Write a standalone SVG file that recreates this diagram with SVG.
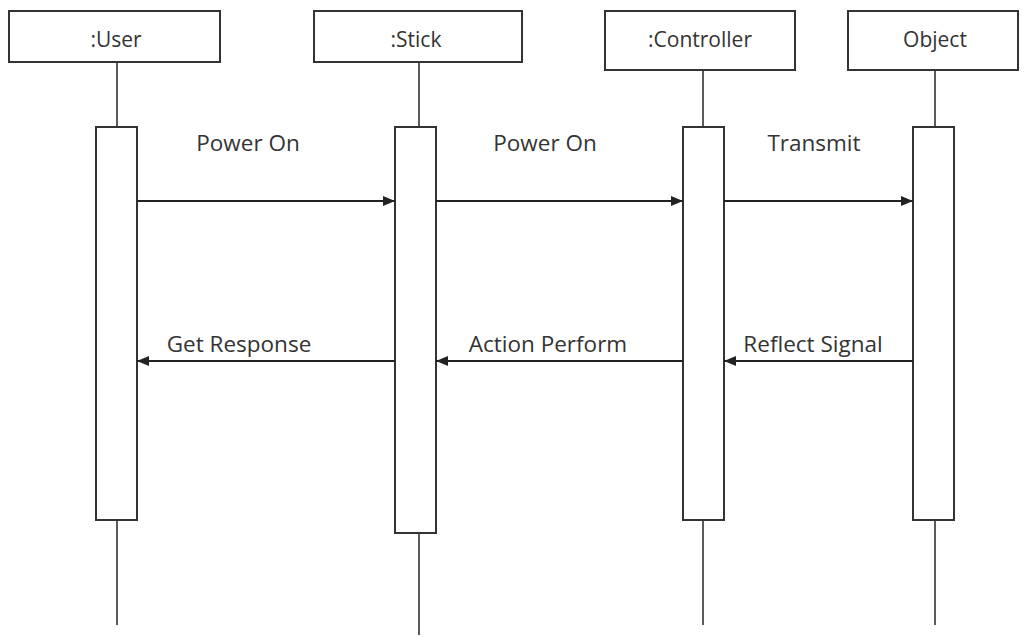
<svg xmlns="http://www.w3.org/2000/svg" width="1024" height="637" viewBox="0 0 1024 637">
<style>
.box{fill:#fff;stroke:#333;stroke-width:2}
.life{stroke:#333;stroke-width:1.6;fill:none}
.act{fill:#fff;stroke:#333;stroke-width:2}
.msg{stroke:#222;stroke-width:2;fill:none;marker-end:url(#ah)}
.lbl{font-family:"Open Sans","Liberation Sans",sans-serif;font-size:21px;fill:#333;text-anchor:middle}
.mlbl{font-family:"Open Sans","Liberation Sans",sans-serif;font-size:22.5px;fill:#333;text-anchor:middle}
</style>
<defs>
<marker id="ah" viewBox="0 0 12 10" refX="12" refY="5" markerWidth="12" markerHeight="10" markerUnits="userSpaceOnUse" orient="auto">
<path d="M0,0 L12,5 L0,10 Z" fill="#222"/>
</marker>
</defs>
<rect width="1024" height="637" fill="#fff"/>
<g id="user">
<rect class="box" x="9" y="11" width="211" height="51"/>
<text class="lbl" x="116" y="47">:User</text>
<line class="life" x1="117" y1="62" x2="117" y2="625"/>
<rect class="act" x="96" y="127" width="41" height="393"/>
</g>
<g id="stick">
<rect class="box" x="314" y="11" width="208" height="51"/>
<text class="lbl" x="416" y="47">:Stick</text>
<line class="life" x1="419" y1="62" x2="419" y2="635"/>
<rect class="act" x="395" y="127" width="41" height="406"/>
</g>
<g id="controller">
<rect class="box" x="605" y="11" width="190" height="59"/>
<text class="lbl" x="700" y="47">:Controller</text>
<line class="life" x1="703" y1="70" x2="703" y2="625"/>
<rect class="act" x="683" y="127" width="41" height="393"/>
</g>
<g id="object">
<rect class="box" x="848" y="11" width="170" height="59"/>
<text class="lbl" x="935" y="47">Object</text>
<line class="life" x1="935" y1="70" x2="935" y2="625"/>
<rect class="act" x="913" y="127" width="41" height="393"/>
</g>
<g id="connectors">
<line class="msg" x1="137" y1="201" x2="395" y2="201"/>
<line class="msg" x1="436" y1="201" x2="683" y2="201"/>
<line class="msg" x1="724" y1="201" x2="913" y2="201"/>
<line class="msg" x1="395" y1="361" x2="137" y2="361"/>
<line class="msg" x1="683" y1="361" x2="436" y2="361"/>
<line class="msg" x1="913" y1="361" x2="724" y2="361"/>
<text class="mlbl" x="248" y="151">Power On</text>
<text class="mlbl" x="545" y="151">Power On</text>
<text class="mlbl" x="814" y="151">Transmit</text>
<text class="mlbl" x="239" y="352">Get Response</text>
<text class="mlbl" x="548" y="352">Action Perform</text>
<text class="mlbl" x="813" y="352">Reflect Signal</text>
</g>
</svg>
